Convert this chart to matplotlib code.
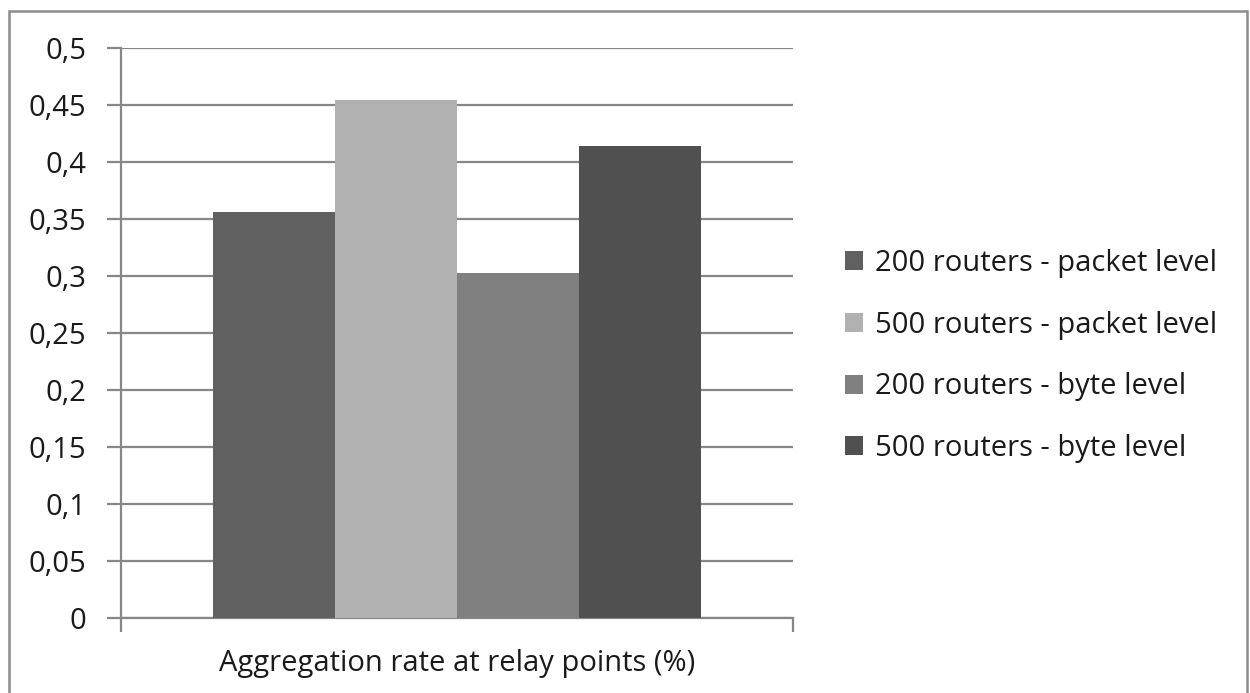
import numpy as np
import matplotlib.pyplot as plt
from matplotlib.patches import Rectangle
from matplotlib.ticker import FuncFormatter

plt.rcParams['font.family'] = ['Open Sans', 'DejaVu Sans']

category = 'Aggregation rate at relay points (%)'
series = ['200 routers - packet level', '500 routers - packet level',
          '200 routers - byte level', '500 routers - byte level']
values = [0.356, 0.454, 0.303, 0.414]
colors = ['#606060', '#b1b1b1', '#808080', '#505050']
yticks = np.arange(0, 0.5001, 0.05)

W, H = 1250, 693
fig = plt.figure(figsize=(W / 100, H / 100), dpi=100)
ax = fig.add_axes([121 / W, 1 - 618 / H, 672 / W, 570 / H])

grey = '#878787'
fs = 21
# one cluster, gap width 150% of a bar
gap = 1.5
pos = gap / 2 + 0.5 + np.arange(len(values))
for p, v, c, s in zip(pos, values, colors, series):
    ax.bar(p, v, width=1.0, color=c, label=s, zorder=3)

ax.set_xlim(0, len(values) + gap)
ax.set_ylim(0, 0.5)
ax.set_yticks(yticks)
ax.yaxis.set_major_formatter(FuncFormatter(lambda v, _: ('%g' % round(v, 2)).replace('.', ',')))
ax.grid(axis='y', color=grey, linewidth=1.6, zorder=0)

ax.set_xticks([0, len(values) + gap])
ax.set_xticklabels(['', ''])
ax.set_xticks([(len(values) + gap) / 2], minor=True)
ax.set_xticklabels([category], minor=True)
ax.tick_params(axis='x', which='major', length=10, width=1.6, color=grey)
ax.tick_params(axis='x', which='minor', length=0, pad=22, labelsize=fs, labelcolor='#1a1a1a')
ax.tick_params(axis='y', length=10, width=1.6, color=grey, pad=15, labelsize=fs, labelcolor='#1a1a1a')

for side in ['top', 'right']:
    ax.spines[side].set_visible(False)
for side in ['left', 'bottom']:
    ax.spines[side].set_color(grey)
    ax.spines[side].set_linewidth(1.6)

leg = fig.legend(loc='center left', bbox_to_anchor=(845 / W, 1 - 356 / H),
                 frameon=False, fontsize=fs, handlelength=0.62, handleheight=0.62,
                 handletextpad=0.4, labelspacing=1.12, borderpad=0, borderaxespad=0)
for t in leg.get_texts():
    t.set_color('#1a1a1a')

# outer chart border
fig.patches.append(Rectangle((9 / W, -0.05), 1238 / W, 1.05 - 11 / H,
                             transform=fig.transFigure, fill=False,
                             edgecolor='#8c8c8c', linewidth=1.8))

fig.savefig('out.png', dpi=100)
